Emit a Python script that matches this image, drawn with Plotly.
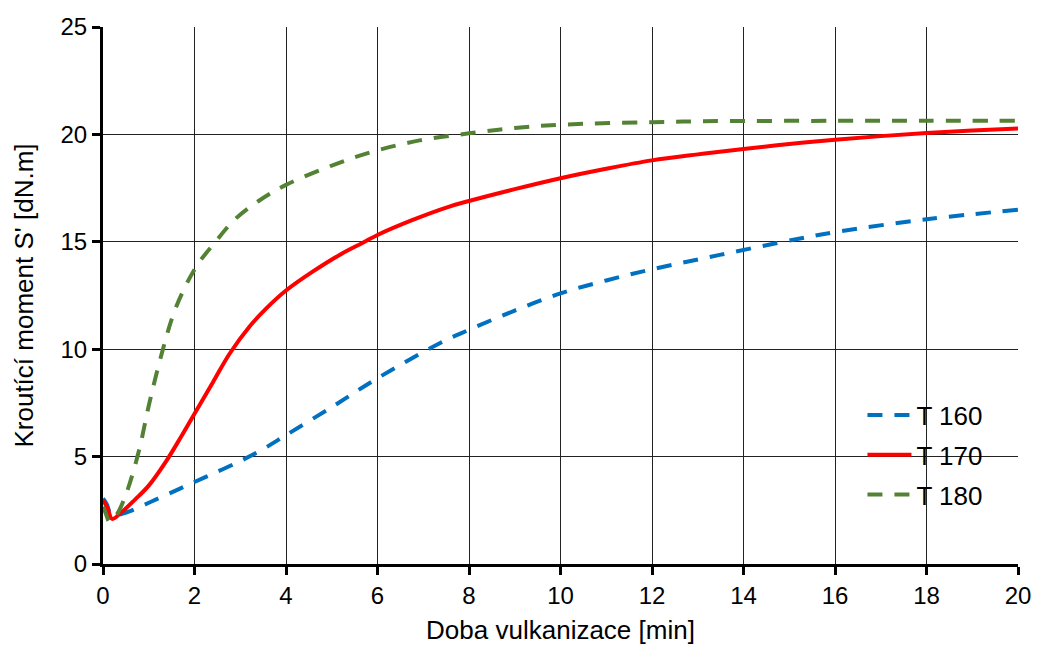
import plotly.graph_objects as go

x160 = [0, 0.08, 0.18, 0.35, 0.58, 1.05, 1.67, 2.26, 2.98, 3.5, 4, 5.02, 6, 7.36, 8, 9, 10, 11, 12, 13.48, 15.15, 16, 18, 20]
y160 = [3.05, 2.8, 2.3, 2.3, 2.45, 2.9, 3.5, 4.07, 4.77, 5.35, 6.0, 7.33, 8.65, 10.28, 10.9, 11.8, 12.6, 13.2, 13.72, 14.39, 15.12, 15.45, 16.05, 16.49]

x170 = [0, 0.1, 0.2, 0.4, 0.7, 1.0, 1.4, 1.7, 2, 2.4, 2.77, 3.2, 3.57, 4, 4.59, 5.17, 5.72, 6, 6.77, 7.57, 8, 9, 10, 11, 12, 13, 14, 15, 16, 17, 18, 19, 20]
y170 = [2.98, 2.6, 2.1, 2.4, 3.0, 3.65, 4.85, 5.9, 7.0, 8.45, 9.8, 11.05, 11.9, 12.73, 13.62, 14.39, 15.0, 15.32, 16.02, 16.64, 16.9, 17.45, 17.96, 18.4, 18.79, 19.07, 19.32, 19.55, 19.75, 19.92, 20.06, 20.18, 20.28]

x180 = [0, 0.07, 0.14, 0.3, 0.45, 0.62, 0.8, 1.02, 1.31, 1.6, 2.04, 2.44, 2.87, 3.4, 4, 5, 5.9, 6.92, 8, 9, 10, 12, 13.5, 16, 18, 20]
y180 = [2.67, 2.3, 1.97, 2.3, 2.95, 4.0, 5.4, 7.55, 10.0, 11.98, 13.85, 14.95, 16.02, 16.9, 17.65, 18.55, 19.2, 19.72, 20.05, 20.3, 20.45, 20.57, 20.62, 20.63, 20.63, 20.63]

names = ["T 160", "T 170", "T 180"]
colors = ["#0070c0", "#ff0000", "#548235"]

fig = go.Figure()
fig.add_trace(go.Scatter(x=x160, y=y160, mode="lines", name=names[0], legendgroup="a",
                         line=dict(color=colors[0], width=4, dash="15px,12px", shape="spline", smoothing=1.0)))
fig.add_trace(go.Scatter(x=x170, y=y170, mode="lines", name=names[1], legendgroup="b",
                         line=dict(color=colors[1], width=4, shape="spline", smoothing=1.0)))
fig.add_trace(go.Scatter(x=x180, y=y180, mode="lines", name=names[2], legendgroup="c",
                         line=dict(color=colors[2], width=4, dash="15px,12px", shape="spline", smoothing=1.0)))

font = "Liberation Sans, Arial, sans-serif"
fig.update_layout(
    width=1037, height=646,
    margin=dict(l=103, r=19, t=27, b=82),
    paper_bgcolor="white", plot_bgcolor="white",
    font=dict(family=font, size=24, color="black"),
    showlegend=True,
    legend=dict(x=0.83, y=0.203, xanchor="left", yanchor="middle",
                font=dict(size=26), bgcolor="rgba(0,0,0,0)", tracegroupgap=3, itemwidth=44),
    xaxis=dict(range=[0, 20], dtick=2, tick0=0, showgrid=True, gridcolor="#222", gridwidth=1,
               showline=True, linecolor="black", linewidth=3, ticks="outside", ticklen=8,
               tickwidth=3, tickcolor="black", zeroline=False, automargin=False,
               title=dict(text="Doba vulkanizace [min]", font=dict(size=26), standoff=14)),
    yaxis=dict(range=[0, 25], dtick=5, tick0=0, showgrid=True, gridcolor="#222", gridwidth=1,
               showline=True, linecolor="black", linewidth=3, ticks="outside", ticklen=8,
               tickwidth=3, tickcolor="black", zeroline=False, automargin=False,
               title=dict(text="Kroutící moment S' [dN.m]", font=dict(size=26), standoff=20)),
)
fig.write_html("out.html")
